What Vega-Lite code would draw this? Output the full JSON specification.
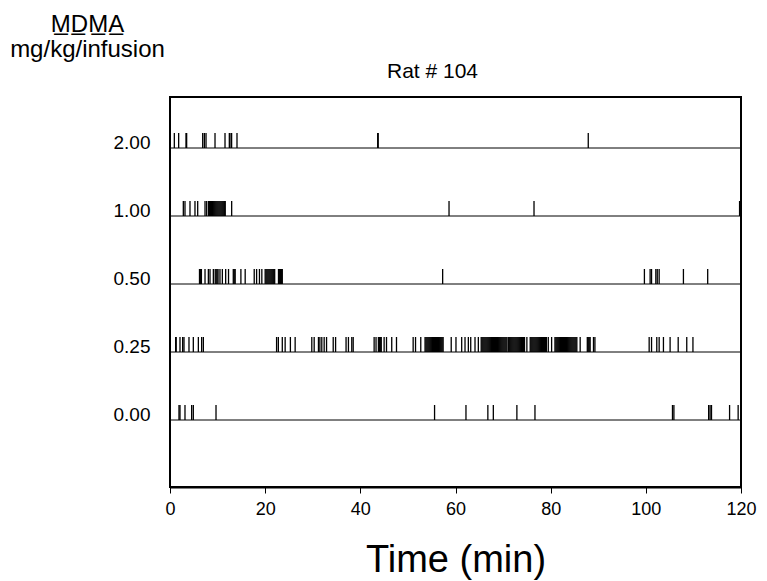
{
  "$schema": "https://vega.github.io/schema/vega-lite/v6.json",
  "width": 571,
  "height": 390,
  "autosize": {"type": "none"},
  "padding": {"left": 170, "top": 97, "right": 26, "bottom": 94},
  "background": "white",
  "title": {"text": "Rat # 104", "fontSize": 21, "fontWeight": "normal", "font": "Liberation Sans", "color": "black", "offset": 0, "dy": 70, "dx": -23, "frame": "group"},
  "config": {"font": "Liberation Sans", "view": {"stroke": "black", "strokeWidth": 2}, "axis": {"grid": false}},
  "datasets": {
    "doses": [{"dose": "2.00"}, {"dose": "1.00"}, {"dose": "0.50"}, {"dose": "0.25"}, {"dose": "0.00"}],
    "presses": [
      {"dose":"2.00","minute":0.91},{"dose":"2.00","minute":1.82},{"dose":"2.00","minute":3.36},{"dose":"2.00","minute":3.5},{"dose":"2.00","minute":6.87},{"dose":"2.00","minute":7.22},{"dose":"2.00","minute":7.57},{"dose":"2.00","minute":9.46},{"dose":"2.00","minute":11.56},{"dose":"2.00","minute":12.47},{"dose":"2.00","minute":12.82},{"dose":"2.00","minute":12.95},{"dose":"2.00","minute":14.08},{"dose":"2.00","minute":43.65},{"dose":"2.00","minute":43.75},{"dose":"2.00","minute":87.9},
      {"dose":"1.00","minute":2.8},{"dose":"1.00","minute":3.15},{"dose":"1.00","minute":4.2},{"dose":"1.00","minute":5.25},{"dose":"1.00","minute":5.82},{"dose":"1.00","minute":7.36},{"dose":"1.00","minute":7.71},{"dose":"1.00","minute":8.1},{"dose":"1.00","minute":8.3},{"dose":"1.00","minute":8.5},{"dose":"1.00","minute":8.7},{"dose":"1.00","minute":8.9},{"dose":"1.00","minute":9.1},{"dose":"1.00","minute":9.3},{"dose":"1.00","minute":9.5},{"dose":"1.00","minute":9.7},{"dose":"1.00","minute":9.9},{"dose":"1.00","minute":10.1},{"dose":"1.00","minute":10.3},{"dose":"1.00","minute":10.5},{"dose":"1.00","minute":10.7},{"dose":"1.00","minute":10.9},{"dose":"1.00","minute":11.1},{"dose":"1.00","minute":11.3},{"dose":"1.00","minute":11.5},{"dose":"1.00","minute":11.6},{"dose":"1.00","minute":12.96},{"dose":"1.00","minute":58.64},{"dose":"1.00","minute":76.5},{"dose":"1.00","minute":119.7},
      {"dose":"0.50","minute":6.2},{"dose":"0.50","minute":6.4},{"dose":"0.50","minute":6.6},{"dose":"0.50","minute":7.36},{"dose":"0.50","minute":8.06},{"dose":"0.50","minute":8.41},{"dose":"0.50","minute":9.11},{"dose":"0.50","minute":9.5},{"dose":"0.50","minute":9.7},{"dose":"0.50","minute":9.9},{"dose":"0.50","minute":10.1},{"dose":"0.50","minute":10.5},{"dose":"0.50","minute":11.0},{"dose":"0.50","minute":11.7},{"dose":"0.50","minute":12.3},{"dose":"0.50","minute":13.3},{"dose":"0.50","minute":13.5},{"dose":"0.50","minute":13.7},{"dose":"0.50","minute":14.9},{"dose":"0.50","minute":15.8},{"dose":"0.50","minute":17.7},{"dose":"0.50","minute":18.2},{"dose":"0.50","minute":18.8},{"dose":"0.50","minute":19.3},{"dose":"0.50","minute":20.0},{"dose":"0.50","minute":20.2},{"dose":"0.50","minute":20.4},{"dose":"0.50","minute":20.6},{"dose":"0.50","minute":20.8},{"dose":"0.50","minute":21.0},{"dose":"0.50","minute":21.2},{"dose":"0.50","minute":21.4},{"dose":"0.50","minute":21.6},{"dose":"0.50","minute":21.8},{"dose":"0.50","minute":22.0},{"dose":"0.50","minute":22.8},{"dose":"0.50","minute":23.0},{"dose":"0.50","minute":23.2},{"dose":"0.50","minute":23.4},{"dose":"0.50","minute":23.6},{"dose":"0.50","minute":57.3},{"dose":"0.50","minute":99.7},{"dose":"0.50","minute":100.9},{"dose":"0.50","minute":101.2},{"dose":"0.50","minute":102.1},{"dose":"0.50","minute":102.4},{"dose":"0.50","minute":102.8},{"dose":"0.50","minute":107.9},{"dose":"0.50","minute":113.0},
      {"dose":"0.25","minute":1.19},{"dose":"0.25","minute":1.3},{"dose":"0.25","minute":2.1},{"dose":"0.25","minute":2.66},{"dose":"0.25","minute":2.94},{"dose":"0.25","minute":3.99},{"dose":"0.25","minute":4.9},{"dose":"0.25","minute":5.96},{"dose":"0.25","minute":6.65},{"dose":"0.25","minute":7.01},{"dose":"0.25","minute":22.4},{"dose":"0.25","minute":22.77},{"dose":"0.25","minute":23.6},{"dose":"0.25","minute":24.2},{"dose":"0.25","minute":25.3},{"dose":"0.25","minute":26.3},{"dose":"0.25","minute":29.8},{"dose":"0.25","minute":30.3},{"dose":"0.25","minute":31.2},{"dose":"0.25","minute":31.5},{"dose":"0.25","minute":31.9},{"dose":"0.25","minute":32.4},{"dose":"0.25","minute":32.9},{"dose":"0.25","minute":34.3},{"dose":"0.25","minute":34.8},{"dose":"0.25","minute":37.0},{"dose":"0.25","minute":37.5},{"dose":"0.25","minute":38.2},{"dose":"0.25","minute":38.5},{"dose":"0.25","minute":42.9},{"dose":"0.25","minute":43.3},{"dose":"0.25","minute":43.8},{"dose":"0.25","minute":44.0},{"dose":"0.25","minute":44.2},{"dose":"0.25","minute":44.4},{"dose":"0.25","minute":45.0},{"dose":"0.25","minute":45.5},{"dose":"0.25","minute":46.6},{"dose":"0.25","minute":47.6},{"dose":"0.25","minute":51.1},{"dose":"0.25","minute":51.6},{"dose":"0.25","minute":52.7},
      {"dose":"0.25","minute":53.6},{"dose":"0.25","minute":53.8},{"dose":"0.25","minute":54.0},{"dose":"0.25","minute":54.2},{"dose":"0.25","minute":54.4},{"dose":"0.25","minute":54.6},{"dose":"0.25","minute":54.8},{"dose":"0.25","minute":55.0},{"dose":"0.25","minute":55.2},{"dose":"0.25","minute":55.4},{"dose":"0.25","minute":55.6},{"dose":"0.25","minute":55.8},{"dose":"0.25","minute":56.0},{"dose":"0.25","minute":56.2},{"dose":"0.25","minute":56.4},{"dose":"0.25","minute":56.6},{"dose":"0.25","minute":56.8},{"dose":"0.25","minute":57.0},{"dose":"0.25","minute":57.2},{"dose":"0.25","minute":57.4},
      {"dose":"0.25","minute":59.1},{"dose":"0.25","minute":60.1},{"dose":"0.25","minute":61.3},{"dose":"0.25","minute":62.0},{"dose":"0.25","minute":62.7},{"dose":"0.25","minute":63.2},{"dose":"0.25","minute":64.1},{"dose":"0.25","minute":64.8},
      {"dose":"0.25","minute":65.4},{"dose":"0.25","minute":65.6},{"dose":"0.25","minute":65.8},{"dose":"0.25","minute":66.0},{"dose":"0.25","minute":66.2},{"dose":"0.25","minute":66.4},{"dose":"0.25","minute":66.6},{"dose":"0.25","minute":66.8},{"dose":"0.25","minute":67.0},{"dose":"0.25","minute":67.2},{"dose":"0.25","minute":67.4},{"dose":"0.25","minute":67.6},{"dose":"0.25","minute":67.8},{"dose":"0.25","minute":68.0},{"dose":"0.25","minute":68.2},{"dose":"0.25","minute":68.4},{"dose":"0.25","minute":68.6},{"dose":"0.25","minute":68.8},{"dose":"0.25","minute":69.0},{"dose":"0.25","minute":69.2},{"dose":"0.25","minute":69.4},{"dose":"0.25","minute":69.6},{"dose":"0.25","minute":69.8},{"dose":"0.25","minute":70.0},{"dose":"0.25","minute":70.2},{"dose":"0.25","minute":70.4},{"dose":"0.25","minute":70.6},{"dose":"0.25","minute":70.8},
      {"dose":"0.25","minute":71.1},{"dose":"0.25","minute":71.3},{"dose":"0.25","minute":71.5},{"dose":"0.25","minute":71.7},{"dose":"0.25","minute":71.9},{"dose":"0.25","minute":72.1},{"dose":"0.25","minute":72.3},{"dose":"0.25","minute":72.5},{"dose":"0.25","minute":72.7},{"dose":"0.25","minute":72.9},{"dose":"0.25","minute":73.1},{"dose":"0.25","minute":73.3},{"dose":"0.25","minute":73.5},{"dose":"0.25","minute":73.7},{"dose":"0.25","minute":73.9},{"dose":"0.25","minute":74.1},{"dose":"0.25","minute":74.3},{"dose":"0.25","minute":74.5},
      {"dose":"0.25","minute":75.0},
      {"dose":"0.25","minute":75.7},{"dose":"0.25","minute":75.9},{"dose":"0.25","minute":76.1},{"dose":"0.25","minute":76.3},{"dose":"0.25","minute":76.5},{"dose":"0.25","minute":76.7},{"dose":"0.25","minute":76.9},{"dose":"0.25","minute":77.1},{"dose":"0.25","minute":77.3},{"dose":"0.25","minute":77.5},{"dose":"0.25","minute":77.7},{"dose":"0.25","minute":77.9},{"dose":"0.25","minute":78.1},{"dose":"0.25","minute":78.3},{"dose":"0.25","minute":78.5},{"dose":"0.25","minute":78.7},{"dose":"0.25","minute":78.9},{"dose":"0.25","minute":79.1},
      {"dose":"0.25","minute":79.5},{"dose":"0.25","minute":80.2},
      {"dose":"0.25","minute":80.9},{"dose":"0.25","minute":81.1},{"dose":"0.25","minute":81.3},{"dose":"0.25","minute":81.5},{"dose":"0.25","minute":81.7},{"dose":"0.25","minute":81.9},{"dose":"0.25","minute":82.1},{"dose":"0.25","minute":82.3},{"dose":"0.25","minute":82.5},{"dose":"0.25","minute":82.7},{"dose":"0.25","minute":82.9},{"dose":"0.25","minute":83.1},{"dose":"0.25","minute":83.3},{"dose":"0.25","minute":83.5},{"dose":"0.25","minute":83.7},{"dose":"0.25","minute":83.9},{"dose":"0.25","minute":84.1},{"dose":"0.25","minute":84.3},{"dose":"0.25","minute":84.5},{"dose":"0.25","minute":84.7},{"dose":"0.25","minute":84.9},{"dose":"0.25","minute":85.1},{"dose":"0.25","minute":85.3},{"dose":"0.25","minute":85.5},
      {"dose":"0.25","minute":86.2},{"dose":"0.25","minute":87.7},{"dose":"0.25","minute":87.9},{"dose":"0.25","minute":88.1},{"dose":"0.25","minute":88.3},{"dose":"0.25","minute":89.0},{"dose":"0.25","minute":89.3},{"dose":"0.25","minute":100.7},{"dose":"0.25","minute":101.2},{"dose":"0.25","minute":102.3},{"dose":"0.25","minute":102.8},{"dose":"0.25","minute":103.7},{"dose":"0.25","minute":105.1},{"dose":"0.25","minute":106.8},{"dose":"0.25","minute":108.6},{"dose":"0.25","minute":109.9},
      {"dose":"0.00","minute":1.89},{"dose":"0.00","minute":2.1},{"dose":"0.00","minute":3.15},{"dose":"0.00","minute":4.55},{"dose":"0.00","minute":4.9},{"dose":"0.00","minute":9.67},{"dose":"0.00","minute":55.6},{"dose":"0.00","minute":62.2},{"dose":"0.00","minute":66.8},{"dose":"0.00","minute":67.95},{"dose":"0.00","minute":72.9},{"dose":"0.00","minute":76.7},{"dose":"0.00","minute":105.6},{"dose":"0.00","minute":105.9},{"dose":"0.00","minute":113.2},{"dose":"0.00","minute":113.5},{"dose":"0.00","minute":113.8},{"dose":"0.00","minute":117.6},{"dose":"0.00","minute":119.4}
    ]
  },
  "layer": [
    {
      "data": {"name": "doses"},
      "mark": {"type": "rule", "color": "black", "strokeWidth": 1},
      "encoding": {
        "x": {"datum": 0, "type": "quantitative", "scale": {"domain": [0, 120], "nice": false, "zero": false},
          "axis": {"values": [0, 20, 40, 60, 80, 100, 120], "title": "Time (min)", "titleFontSize": 38, "titleFontWeight": "normal", "titleColor": "black", "titlePadding": 23,
            "labelFontSize": 18, "labelColor": "black", "labelPadding": 7, "labelFlush": false, "tickColor": "black", "tickSize": 6, "domainColor": "black", "domainWidth": 2}},
        "x2": {"datum": 120},
        "y": {"field": "dose", "type": "ordinal", "scale": {"type": "point", "padding": 0, "domain": ["2.00", "1.00", "0.50", "0.25", "0.00"], "range": [51, 323]},
          "axis": {"title": ["M\u0332D\u0332M\u0332A\u0332", "mg/kg/infusion"], "titleAngle": 0, "titleAlign": "center", "titleBaseline": "top", "titleX": -83, "titleY": -85,
            "titleFontSize": 24, "titleFontWeight": "normal", "titleColor": "black", "titleLineHeight": 25,
            "labelFontSize": 19, "labelColor": "black", "labelPadding": 20, "labelBaseline": "alphabetic", "ticks": false, "tickSize": 0, "domain": false}}
      }
    },
    {
      "data": {"name": "presses"},
      "mark": {"type": "rule", "color": "black", "strokeWidth": 1.3, "y2Offset": -15},
      "encoding": {
        "x": {"field": "minute", "type": "quantitative"},
        "y": {"field": "dose", "type": "ordinal"},
        "y2": {"field": "dose"}
      }
    }
  ]
}
